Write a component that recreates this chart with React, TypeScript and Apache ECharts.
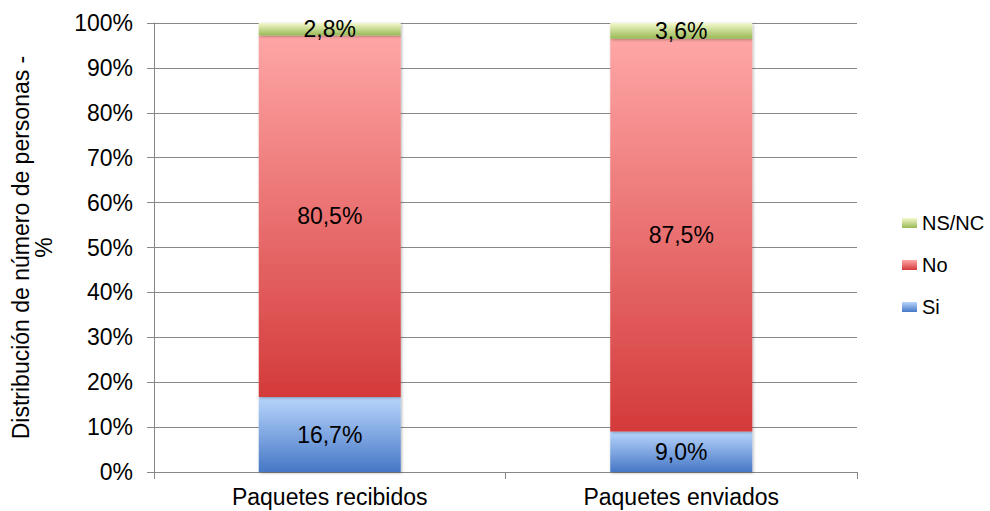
import React, { useEffect, useRef } from "react";
import * as echarts from "echarts";

const categories = ["Paquetes recibidos", "Paquetes enviados"];
const siValues = [16.7, 9.0];
const noValues = [80.5, 87.5];
const nsncValues = [2.8, 3.6];
const yTicks = [0, 10, 20, 30, 40, 50, 60, 70, 80, 90, 100];

const FONT = "'Liberation Sans', Arial, sans-serif";
const FS = 23;

const grad = (top: string, bottom: string) =>
  new echarts.graphic.LinearGradient(0, 0, 0, 1, [
    { offset: 0, color: top },
    { offset: 1, color: bottom },
  ]);

export default function App() {
  const ref = useRef<HTMLDivElement>(null);
  useEffect(() => {
    if (!ref.current) return;
    const chart = echarts.init(ref.current, undefined, { renderer: "svg" });
    const fmt = (p: any) => String(p.value.toFixed(1)).replace(".", ",") + "%";
    const label = {
      show: true,
      position: "inside",
      color: "#000",
      fontSize: FS,
      fontFamily: FONT,
      formatter: fmt,
    };
    const shadow = {
      shadowColor: "rgba(0,0,0,0.3)",
      shadowBlur: 3,
      shadowOffsetX: 1,
      shadowOffsetY: 1,
    };
    chart.setOption({
      animation: false,
      backgroundColor: "#fff",
      textStyle: { fontFamily: FONT },
      grid: { left: 154, right: 133, top: 23, bottom: 39 },
      legend: {
        orient: "vertical",
        left: 897,
        top: 208,
        itemWidth: 15,
        itemHeight: 10,
        itemGap: 22,
        icon: "rect",
        textStyle: { fontSize: 20, color: "#000", fontFamily: FONT },
        data: ["NS/NC", "No", "Si"],
      },
      xAxis: {
        type: "category",
        data: categories,
        boundaryGap: true,
        axisLine: { lineStyle: { color: "#888", width: 1 } },
        axisTick: { show: true, length: 7, lineStyle: { color: "#888" } },
        axisLabel: { color: "#000", fontSize: FS, fontFamily: FONT, margin: 13 },
      },
      yAxis: {
        type: "value",
        min: 0,
        max: 100,
        interval: 10,
        name: "Distribución de número de personas -\n%",
        nameLocation: "middle",
        nameGap: 99,
        nameTextStyle: { color: "#000", fontSize: FS, fontFamily: FONT, lineHeight: 23 },
        axisLine: { show: true, lineStyle: { color: "#888" } },
        axisTick: { show: true, length: 7, lineStyle: { color: "#888" } },
        axisLabel: {
          color: "#000",
          fontSize: FS,
          fontFamily: FONT,
          margin: 21,
          formatter: (v: number) => (yTicks.includes(v) ? v + "%" : ""),
        },
        splitLine: { show: true, lineStyle: { color: "#888", width: 1 } },
      },
      series: [
        {
          name: "Si",
          type: "bar",
          stack: "total",
          barWidth: 142,
          data: siValues,
          itemStyle: { color: grad("#b8d6fc", "#4677c6"), ...shadow },
          label,
        },
        {
          name: "No",
          type: "bar",
          stack: "total",
          barWidth: 142,
          data: noValues,
          itemStyle: { color: grad("#ffa6a6", "#d43a3a"), ...shadow },
          label,
        },
        {
          name: "NS/NC",
          type: "bar",
          stack: "total",
          barWidth: 142,
          data: nsncValues,
          itemStyle: { color: grad("#f4f9cc", "#98b954"), ...shadow },
          label,
        },
      ],
    });
    return () => chart.dispose();
  }, []);
  return <div ref={ref} style={{ width: 990, height: 511, position: "absolute", left: 0, top: 0 }} />;
}
